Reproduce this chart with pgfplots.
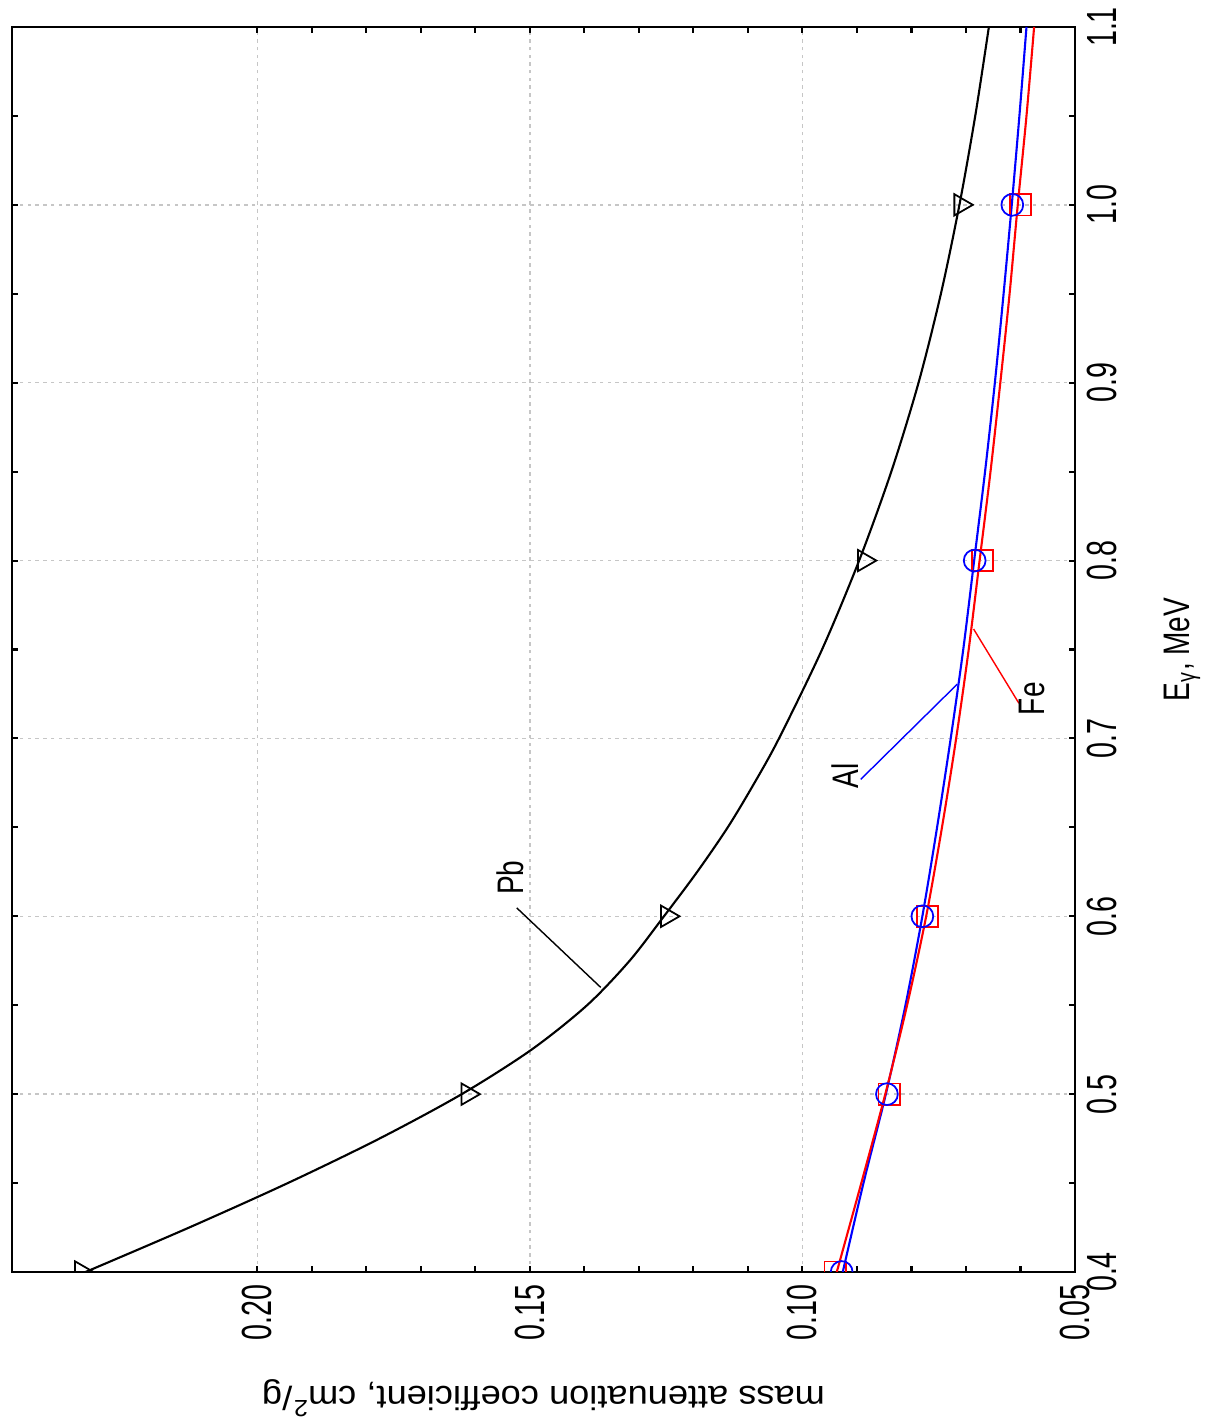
\documentclass[border=0pt]{standalone}
\usepackage{fontspec}
\setmainfont{Liberation Sans}
\newfontfamily\tickfont{Liberation Sans}[FakeStretch=0.68]
\newfontfamily\lblfont{Liberation Sans}[FakeStretch=0.76]
\newfontfamily\widefont{Liberation Sans}[FakeStretch=1.085]
\usepackage{pgfplots}
\pgfplotsset{compat=1.18}
\begin{document}
\begin{tikzpicture}
\begin{axis}[
  scale only axis,
  width=106.3mm, height=124.5mm,
  x dir=reverse,
  xmin=0.05, xmax=0.245, ymin=0.4, ymax=1.1,
  xtick={0.05,0.10,0.15,0.20},
  xticklabels={0.05,0.10,0.15,0.20},
  ytick={0.4,0.5,0.6,0.7,0.8,0.9,1.0,1.1},
  yticklabels={0.4,0.5,0.6,0.7,0.8,0.9,1.0,1.1},
  minor x tick num=4,
  minor y tick num=1,
  tick align=inside,
  major tick length=0.6mm, minor tick length=0.6mm,
  yticklabel pos=right,
  xticklabel style={font=\fontsize{12}{12}\tickfont, rotate=90, anchor=east},
  yticklabel style={font=\fontsize{12}{12}\tickfont, rotate=90, anchor=north},
  grid=major,
  major grid style={gray!45, line width=0.4pt, dash pattern=on 1pt off 1.2pt},
  axis line style={line width=0.7pt},
  every tick/.style={black, line width=0.6pt},
  clip marker paths=true,
  xlabel={mass attenuation coefficient, cm\textsuperscript{2}/g},
  xlabel style={at={(axis description cs:0.5,-0.086)}, anchor=south, rotate=180, inner sep=0pt, font=\fontsize{9.5}{10}\widefont},
  ylabel={E\textsubscript{γ}, MeV},
  ylabel style={at={(axis description cs:1.0828,0.5)}, anchor=north, inner sep=0pt, font=\fontsize{10.5}{11}\lblfont},
]
% fitted curves (value, E)
\addplot[black, line width=0.6pt, smooth, no markers] coordinates {
(0.2315,0.40) (0.2125,0.425) (0.1944,0.45) (0.1776,0.475) (0.1625,0.50)
(0.1497,0.525) (0.1395,0.55) (0.1317,0.575) (0.1254,0.60) (0.1193,0.625)
(0.1137,0.65) (0.1088,0.675)
(0.1043,0.70) (0.0964,0.75) (0.0896,0.80) (0.0837,0.85) (0.0787,0.90)
(0.0746,0.95) (0.0712,1.00) (0.0683,1.05) (0.0658,1.10)};
\addplot[blue, line width=0.6pt, smooth, no markers] coordinates {
(0.0926,0.40) (0.0888,0.45) (0.0847,0.50) (0.0811,0.55) (0.0780,0.60)
(0.0753,0.65) (0.0728,0.70) (0.0705,0.75) (0.0685,0.80) (0.0665,0.85)
(0.0647,0.90) (0.0631,0.95) (0.0616,1.00) (0.0602,1.05) (0.0589,1.10)};
\addplot[red, line width=0.6pt, smooth, no markers] coordinates {
(0.0937,0.40) (0.0892,0.45) (0.0848,0.50) (0.0808,0.55) (0.0773,0.60)
(0.0744,0.65) (0.0718,0.70) (0.0695,0.75) (0.0675,0.80) (0.0655,0.85)
(0.0637,0.90) (0.0620,0.95) (0.0605,1.00) (0.0589,1.05) (0.0575,1.10)};
% data points
\addplot[only marks, black, mark=triangle, mark size=3.5pt, mark options={rotate=-90, line width=0.5pt}] coordinates {
(0.2323,0.4) (0.1614,0.5) (0.1248,0.6) (0.0887,0.8) (0.0710,1.0)};
\addplot[only marks, red, mark=square, mark size=3.0pt, mark options={line width=0.5pt}] coordinates {
(0.0940,0.4) (0.0841,0.5) (0.0770,0.6) (0.0670,0.8) (0.0600,1.0)};
\addplot[only marks, blue, mark=o, mark size=3.1pt, mark options={line width=0.5pt}] coordinates {
(0.0928,0.4) (0.0845,0.5) (0.0780,0.6) (0.0684,0.8) (0.0615,1.0)};
% annotations
\draw[black, line width=0.4pt] (axis cs:0.1370,0.560) -- (axis cs:0.1524,0.6047);
\node[rotate=90, anchor=south west, inner sep=0pt, font=\fontsize{10.5}{11}\lblfont] at (axis cs:0.1509,0.6116) {Pb};
\draw[blue, line width=0.4pt] (axis cs:0.0716,0.7305) -- (axis cs:0.0893,0.677);
\node[rotate=90, anchor=south west, inner sep=0pt, font=\fontsize{10.5}{11}\lblfont] at (axis cs:0.0896,0.6714) {Al};
\draw[red, line width=0.4pt] (axis cs:0.0686,0.7615) -- (axis cs:0.0603,0.7198);
\node[rotate=90, anchor=north west, inner sep=0pt, font=\fontsize{10.5}{11}\lblfont] at (axis cs:0.0603,0.7127) {Fe};
\end{axis}
\pgfresetboundingbox
\path ([shift={(-1.2mm,-15mm)}]current axis.south west) rectangle ([shift={(14.6mm,2.7mm)}]current axis.north east);
\end{tikzpicture}
\end{document}
